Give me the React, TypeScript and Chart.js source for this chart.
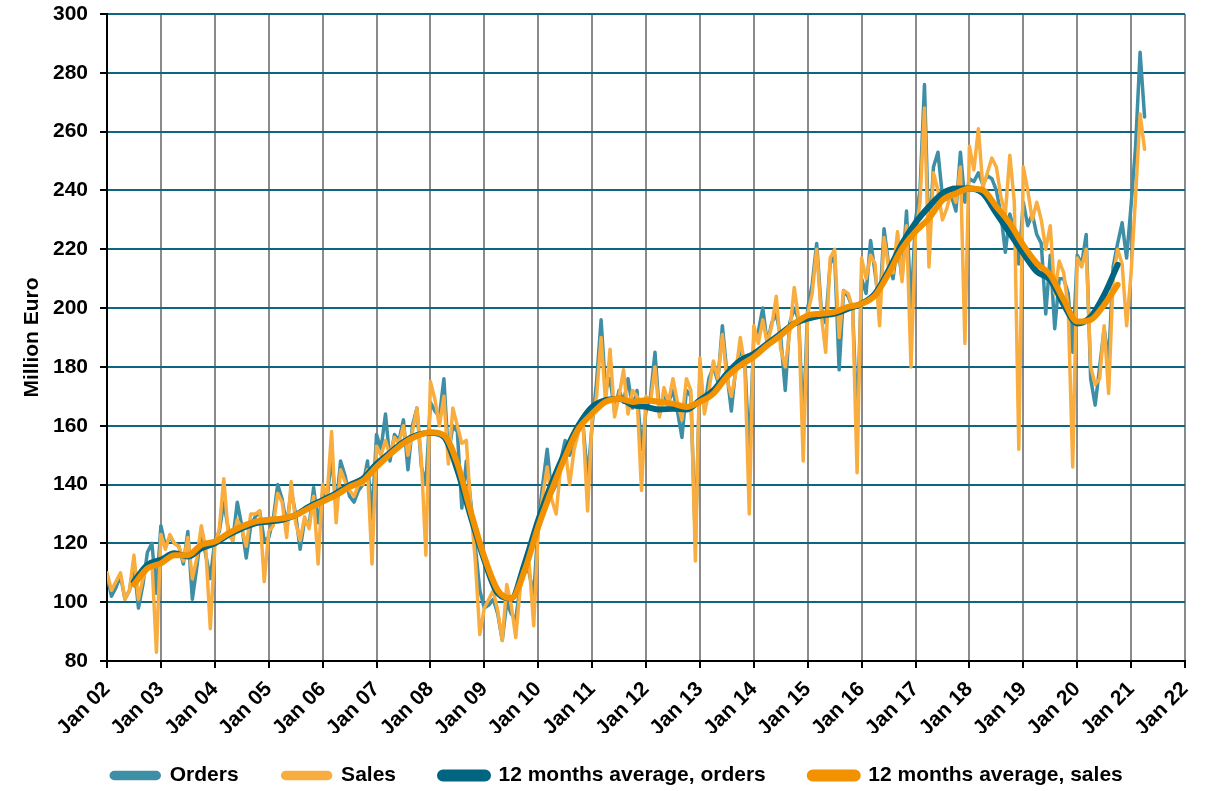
import React, { useEffect, useRef } from "react";
import { Chart, registerables } from "chart.js";

Chart.register(...registerables);

// Monthly values, Jan 2002 – Apr 2021 (million euro)
const orders: number[] = [
  // 2002
  109, 102, 105, 109, 101, 104, 113, 98, 106, 117, 120, 103,
  // 2003
  126, 119, 122, 120, 119, 113, 124, 101, 112, 124, 116, 108,
  // 2004
  121, 124, 134, 125, 121, 134, 126, 115, 126, 129, 131, 121,
  // 2005
  122, 128, 140, 135, 126, 138, 130, 118, 128, 126, 139, 127,
  // 2006
  137, 135, 150, 132, 148, 143, 136, 134, 138, 140, 148, 128,
  // 2007
  157, 152, 164, 148, 157, 155, 162, 145, 160, 166, 146, 140,
  // 2008
  168, 165, 163, 176, 150, 160, 158, 132, 148, 134, 119, 104,
  // 2009
  98, 99, 101, 96, 87, 100, 96, 94, 106, 114, 110, 102,
  // 2010
  127, 140, 152, 137, 140, 148, 155, 150, 155, 160, 160, 142,
  // 2011
  160, 175, 196, 172, 176, 165, 172, 168, 176, 166, 172, 152,
  // 2012
  165, 170, 185, 164, 170, 168, 172, 165, 156, 172, 170, 120,
  // 2013
  178, 166, 176, 180, 175, 194, 178, 165, 180, 186, 182, 150,
  // 2014
  190, 192, 200, 188, 195, 198, 190, 172, 195, 200, 196, 160,
  // 2015
  200, 208, 222, 200, 195, 215, 218, 179, 206, 204, 200, 160,
  // 2016
  210, 205, 223, 212, 200, 227, 215, 210, 222, 210, 233, 200,
  // 2017
  230, 240, 276, 222, 248, 253, 238, 237, 238, 233, 253, 236,
  // 2018
  244, 243, 246, 242, 245, 244, 240, 232, 219, 232, 226, 215,
  // 2019
  236, 228, 232, 225, 222, 198, 218, 193, 210, 210, 205, 185,
  // 2020
  218, 215, 225, 176, 167, 180, 193, 182, 214, 222, 229, 217,
  // 2021
  235, 255, 287, 265,
];

const sales: number[] = [
  // 2002
  110, 104, 107, 110, 101, 104, 116, 101, 108, 112, 114, 83,
  // 2003
  123, 118, 123, 120, 119, 114, 122, 108, 115, 126, 118, 91,
  // 2004
  119, 125, 142, 123, 121, 128, 125, 119, 130, 130, 131, 107,
  // 2005
  124, 126, 137, 134, 122, 141, 127, 121, 129, 125, 136, 113,
  // 2006
  140, 136, 158, 127, 145, 141, 138, 136, 140, 140, 145, 113,
  // 2007
  153, 150, 155, 150, 156, 154, 160, 150, 158, 166, 148, 116,
  // 2008
  175, 169, 160, 170, 147, 166, 160, 154, 155, 132, 114, 89,
  // 2009
  98, 101, 104, 97, 87, 106, 99, 88, 105, 110, 113, 92,
  // 2010
  124, 136, 146, 135, 130, 146, 152, 140, 152, 158, 160, 131,
  // 2011
  162, 170, 190, 168, 186, 163, 170, 179, 164, 172, 170, 138,
  // 2012
  170, 168, 180, 163, 173, 168, 176, 168, 162, 176, 172, 114,
  // 2013
  183, 164, 172, 182, 176, 191, 176, 170, 178, 190, 180, 130,
  // 2014
  194, 188, 196, 188, 194, 204, 186, 180, 192, 207, 196, 148,
  // 2015
  198, 205, 220, 198, 185, 217, 220, 190, 206, 205, 200, 144,
  // 2016
  217, 210, 218, 215, 194, 224, 214, 212, 226, 209, 228, 180,
  // 2017
  225, 236, 268, 214, 246, 240, 230, 234, 240, 236, 248, 188,
  // 2018
  255, 247, 261, 241, 246, 251, 248, 238, 232, 252, 236, 152,
  // 2019
  248, 240, 230, 236, 230, 220, 228, 205, 216, 212, 200, 146,
  // 2020
  217, 214, 220, 180, 174, 176, 194, 171, 210, 220, 215, 194,
  // 2021
  212, 238, 266, 254,
];

// 12-month (centred) averages, read quarterly: Jul 2002 – Oct 2020
const avgStartMonth = 6; // Jul 2002 (months after Jan 2002)
const avgStepMonths = 3;
const avgOrders: number[] = [
  107, 112.7,
  114.4, 116.6, 115.5, 118.3,
  120, 122.9, 125.1, 126.8,
  127.4, 128, 129.6, 132.5,
  134.7, 137, 139.8, 142,
  147, 150.8, 154.5, 156.8,
  157.6, 156.2, 144.9, 129,
  114.3, 103, 101.3, 113.2,
  127.9, 140.4, 151.1, 160.2,
  166.4, 168.7, 169.2, 167,
  166.4, 165.5, 165.8, 165.5,
  168.7, 172, 177.7, 182.2,
  184.5, 187.9, 191.3, 194.7,
  196.4, 197.5, 198.1, 199.8,
  201.5, 204.9, 212.8, 221.9,
  229, 234.5, 239, 240.7,
  240.7, 239, 232.2, 225.4,
  218.6, 212.4, 209.6, 201.1,
  194.8, 197, 204.5, 214.7,
];
const avgSales: number[] = [
  106, 111.5,
  113.2, 116, 116, 119.5,
  120.6, 123.4, 125.7, 127.4,
  128, 128.5, 129.6, 132,
  134.2, 136.4, 139.2, 141.3,
  146, 150.2, 154, 156.5,
  157.8, 156.8, 147.2, 130.7,
  115.4, 104.1, 101.3, 110.9,
  125.6, 138.1, 149.4, 159,
  164.1, 168.1, 169.2, 168.1,
  168.7, 168.1, 167.5, 166.4,
  168.1, 170.9, 176.6, 180.5,
  183.4, 187.3, 190.7, 194.7,
  197.5, 198.1, 198.7, 200.4,
  201.5, 204.3, 211.7, 220.2,
  226, 230.5, 236.7, 239,
  240.7, 240.1, 234.5, 228.8,
  221.4, 215.2, 211.3, 202.8,
  195.4, 196, 201.1, 207.9,
];

const xTickLabels: string[] = [
  "Jan 02", "Jan 03", "Jan 04", "Jan 05", "Jan 06", "Jan 07", "Jan 08",
  "Jan 09", "Jan 10", "Jan 11", "Jan 12", "Jan 13", "Jan 14", "Jan 15",
  "Jan 16", "Jan 17", "Jan 18", "Jan 19", "Jan 20", "Jan 21", "Jan 22",
];

const seriesNames = [
  "Orders",
  "Sales",
  "12 months average, orders",
  "12 months average, sales",
];

const FONT = "'Liberation Sans', Arial, Helvetica, sans-serif";

// nudges the legend (drawn by Chart.js) into place after layout
const legendNudge = {
  id: "legendNudge",
  afterLayout(chart: any) {
    const l = chart.legend;
    if (!l) return;
    l.top -= 12;
    l.left += 3;
    l.right += 3;
  },
};

export default function App() {
  const canvasRef = useRef<HTMLCanvasElement | null>(null);

  useEffect(() => {
    document.body.style.margin = "0";
    const canvas = canvasRef.current;
    if (!canvas) return;

    const monthly = (arr: number[]) => arr.map((y, i) => ({ x: i, y }));
    const quarterly = (arr: number[]) =>
      arr.map((y, i) => ({ x: avgStartMonth + i * avgStepMonths, y }));

    const font = { family: FONT, size: 21, weight: "bold" as const };

    const chart = new Chart(canvas, {
      type: "line",
      data: {
        datasets: [
          {
            label: seriesNames[0],
            data: monthly(orders),
            borderColor: "#3e8fa6",
            backgroundColor: "#3e8fa6",
            borderWidth: 3.5,
            pointRadius: 0,
            tension: 0,
            borderJoinStyle: "round",
            borderCapStyle: "round",
            order: 4,
          },
          {
            label: seriesNames[1],
            data: monthly(sales),
            borderColor: "#f9ad3f",
            backgroundColor: "#f9ad3f",
            borderWidth: 3.5,
            pointRadius: 0,
            tension: 0,
            borderJoinStyle: "round",
            borderCapStyle: "round",
            order: 3,
          },
          {
            label: seriesNames[2],
            data: quarterly(avgOrders),
            borderColor: "#006580",
            backgroundColor: "#006580",
            borderWidth: 6,
            pointRadius: 0,
            cubicInterpolationMode: "monotone",
            borderJoinStyle: "round",
            borderCapStyle: "round",
            order: 2,
          },
          {
            label: seriesNames[3],
            data: quarterly(avgSales),
            borderColor: "#f39200",
            backgroundColor: "#f39200",
            borderWidth: 6,
            pointRadius: 0,
            cubicInterpolationMode: "monotone",
            borderJoinStyle: "round",
            borderCapStyle: "round",
            order: 1,
          },
        ],
      },
      options: {
        animation: false,
        responsive: false,
        maintainAspectRatio: false,
        layout: { padding: { left: 20, right: 0, top: 0, bottom: 0 } },
        plugins: {
          legend: {
            position: "bottom",
            maxHeight: 58,
            labels: {
              font,
              color: "#000",
              boxWidth: 48,
              boxHeight: 6,
              padding: 44,
              useBorderRadius: true,
              borderRadius: 3,
              sort: (a: any, b: any) => a.datasetIndex - b.datasetIndex,
            },
          },
          tooltip: { enabled: false },
        },
        scales: {
          x: {
            type: "linear",
            min: 0,
            max: 240,
            ticks: {
              stepSize: 12,
              autoSkip: false,
              maxRotation: 45,
              minRotation: 45,
              font,
              color: "#000",
              padding: 9,
              callback: (v: any) => xTickLabels[Math.round(Number(v) / 12)] ?? "",
            },
            grid: {
              color: "#8a8a8a",
              lineWidth: 2,
              tickColor: "#000",
              tickLength: 7,
            },
            border: { color: "#000", width: 2 },
            afterFit: (s: any) => {
              s.height = 72;
              s.paddingLeft = 0;
              s.paddingRight = 0;
            },
          },
          y: {
            min: 80,
            max: 300,
            ticks: { stepSize: 20, font, color: "#000", padding: 12 },
            grid: {
              color: "#0b6681",
              lineWidth: 2,
              tickColor: "#000",
              tickLength: 7,
            },
            border: { color: "#000", width: 2 },
            title: {
              display: true,
              text: "Million Euro",
              font: { family: FONT, size: 21, weight: "bold" as const },
              color: "#000",
              padding: 0,
            },
            afterFit: (s: any) => {
              s.width = 87;
              s.paddingTop = 14;
            },
          },
          y2: {
            position: "right",
            display: true,
            grid: { display: false, drawTicks: false },
            ticks: { display: false },
            border: { display: false },
            afterFit: (s: any) => {
              s.width = 23;
              s.paddingTop = 0;
              s.paddingBottom = 0;
            },
          },
        },
      },
      plugins: [legendNudge],
    } as any);

    return () => chart.destroy();
  }, []);

  return (
    <div style={{ width: 1208, height: 791, background: "#fff" }}>
      <canvas ref={canvasRef} width={1208} height={791} />
    </div>
  );
}
